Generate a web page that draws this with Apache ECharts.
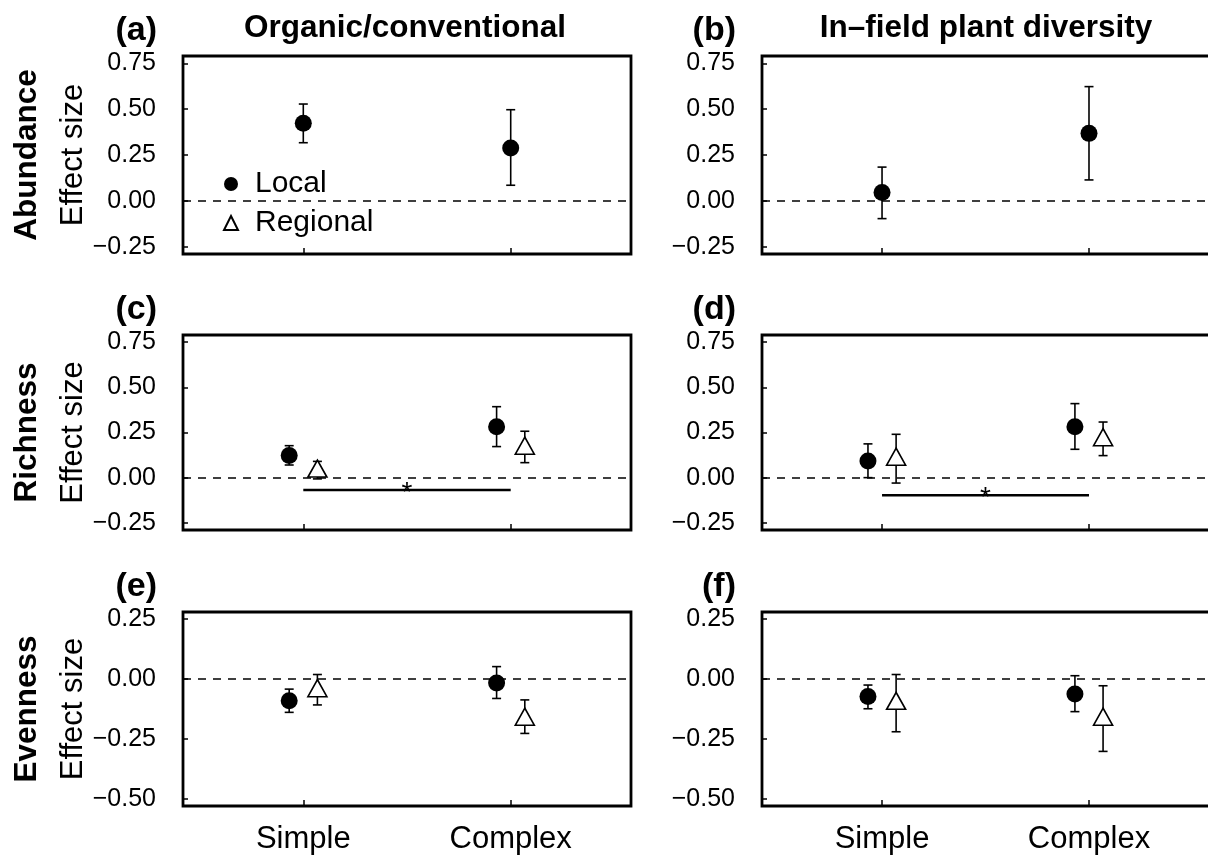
<!DOCTYPE html>
<html>
<head>
<meta charset="utf-8">
<script src="https://cdn.jsdelivr.net/npm/echarts@6/dist/echarts.min.js"></script>
<style>
html, body { margin: 0; background: #fff; }
#main { width: 1208px; height: 859px; }
</style>
</head>
<body>
<div id="main"></div>
<script>
// categories / labels
var cats = ['Simple', 'Complex'];
var panelTags = ['(a)', '(b)', '(c)', '(d)', '(e)', '(f)'];
var colTitles = ['Organic/conventional', 'In\u2013field plant diversity'];
var rowNames = ['Abundance', 'Richness', 'Evenness'];
var yTicksTop = [-0.25, 0, 0.25, 0.5, 0.75];
var yTicksBottom = [-0.5, -0.25, 0, 0.25];

// Local effect sizes (Simple, Complex) for panels a..f
var localMean = [[0.423, 0.288], [0.045, 0.368], [0.122, 0.282], [0.092, 0.282], [-0.091, -0.016], [-0.073, -0.062]];
var localLow  = [[0.317, 0.085], [-0.097, 0.114], [0.070, 0.172], [0.000, 0.157], [-0.139, -0.081], [-0.124, -0.136]];
var localHigh = [[0.528, 0.497], [0.184, 0.623], [0.177, 0.393], [0.187, 0.410], [-0.042, 0.052], [-0.025, 0.014]];

// Regional effect sizes (none for abundance)
var regMean = [[], [], [0.050, 0.177], [0.116, 0.224], [-0.038, -0.157], [-0.091, -0.157]];
var regLow  = [[], [], [-0.007, 0.083], [-0.030, 0.122], [-0.108, -0.227], [-0.220, -0.302]];
var regHigh = [[], [], [0.090, 0.257], [0.240, 0.308], [0.019, -0.087], [0.019, -0.028]];

// significance bar (Simple vs Complex) height
var sigY = [null, null, -0.068, -0.097, null, null];

var myChart = echarts.init(document.getElementById('main'));

var font = '"Liberation Sans", Arial, Helvetica, sans-serif';
var colLeft = [183, 762];
var rowTop = [56, 335, 612];
var rowH = [198, 195, 194];
var yRange = [[-0.29, 0.79], [-0.29, 0.79], [-0.53, 0.28]];
var dodge = 0.068;

function fmtY(v) {
	if (Math.abs(v) < 1e-9) return '0.00';
	return (v < 0 ? '\u2212' : '') + Math.abs(v).toFixed(2);
}

//误差线
function errBar(params, api) {
	var x = api.value(0);
	var p1 = api.coord([x, api.value(1)]);
	var p2 = api.coord([x, api.value(2)]);
	var w = 4.5;
	var st = { stroke: '#000', lineWidth: 1.6 };
	return {
		type: 'group',
		children: [
			{ type: 'line', shape: { x1: p1[0], y1: p1[1], x2: p2[0], y2: p2[1] }, style: st },
			{ type: 'line', shape: { x1: p1[0] - w, y1: p1[1], x2: p1[0] + w, y2: p1[1] }, style: st },
			{ type: 'line', shape: { x1: p2[0] - w, y1: p2[1], x2: p2[0] + w, y2: p2[1] }, style: st }
		]
	};
}

//显著性横线
function sigBar(params, api) {
	var a = api.coord([api.value(0), api.value(2)]);
	var b = api.coord([api.value(1), api.value(2)]);
	return {
		type: 'group',
		children: [
			{ type: 'line', shape: { x1: a[0], y1: a[1], x2: b[0], y2: b[1] }, style: { stroke: '#000', lineWidth: 2.5 } },
			{ type: 'text', x: (a[0] + b[0]) / 2, y: a[1] + 3, style: { text: '*', fill: '#000', font: '28px ' + font, align: 'center', verticalAlign: 'middle' } }
		]
	};
}

var grids = [], xAxes = [], yAxes = [], series = [], graphics = [];

for (var i = 0; i < 6; i++) {
	var row = Math.floor(i / 2), col = i % 2;
	var hasReg = regMean[i].length > 0;
	grids.push({
		left: colLeft[col], top: rowTop[row], width: col === 1 ? 452 : 448, height: rowH[row],
		outerBoundsMode: 'none', containLabel: false,
		show: true, borderColor: '#000', borderWidth: 2.8, backgroundColor: 'transparent'
	});
	xAxes.push({
		gridIndex: i, type: 'value', min: 0.42, max: col === 1 ? 2.604 : 2.58,
		splitLine: { show: false },
		axisLine: { show: false, onZero: false },
		axisTick: { show: true, inside: true, length: 6, customValues: [1, 2], lineStyle: { color: '#000', width: 1.5 } },
		axisLabel: {
			show: row === 2, customValues: [1, 2], margin: 18,
			formatter: function (v) { return cats[Math.round(v) - 1]; },
			fontSize: 31, color: '#000', fontFamily: font
		}
	});
	var ticks = row === 2 ? yTicksBottom : yTicksTop;
	yAxes.push({
		gridIndex: i, type: 'value', min: yRange[row][0], max: yRange[row][1],
		splitLine: { show: false },
		axisLine: { show: false, onZero: false },
		axisTick: { show: true, inside: true, length: 5, customValues: ticks, lineStyle: { color: '#000', width: 1.5 } },
		axisLabel: { customValues: ticks, formatter: fmtY, margin: 27, fontSize: 25, color: '#000', fontFamily: font },
		name: col === 0 ? 'Effect size' : '',
		nameLocation: 'middle', nameGap: 88,
		nameTextStyle: { fontSize: 31, color: '#000', fontFamily: font }
	});

	var lx = hasReg ? [1 - dodge, 2 - dodge] : [1, 2];
	var rx = [1 + dodge, 2 + dodge];
	var lErr = [], lPts = [], rErr = [], rPts = [];
	for (var j = 0; j < 2; j++) {
		lErr.push([lx[j], localLow[i][j], localHigh[i][j]]);
		lPts.push([lx[j], localMean[i][j]]);
		if (hasReg) {
			rErr.push([rx[j], regLow[i][j], regHigh[i][j]]);
			rPts.push([rx[j], regMean[i][j]]);
		}
	}

	series.push({
		type: 'custom', xAxisIndex: i, yAxisIndex: i, renderItem: errBar,
		encode: { x: 0, y: [1, 2] }, data: lErr, z: 2, silent: true,
		markLine: {
			silent: true, symbol: 'none', label: { show: false },
			lineStyle: { color: '#000', type: [8, 7], width: 1.6 },
			data: [{ yAxis: 0 }]
		}
	});
	series.push({
		name: 'Local', type: 'scatter', xAxisIndex: i, yAxisIndex: i,
		symbol: 'circle', symbolSize: 17, data: lPts, z: 3,
		itemStyle: { color: '#000', opacity: 1 }
	});
	series.push({
		type: 'custom', xAxisIndex: i, yAxisIndex: i, renderItem: errBar,
		encode: { x: 0, y: [1, 2] }, data: rErr, z: 2, silent: true
	});
	series.push({
		name: 'Regional', type: 'scatter', xAxisIndex: i, yAxisIndex: i,
		symbol: 'triangle', symbolSize: [19, 17], data: rPts, z: 4,
		itemStyle: { color: '#fff', borderColor: '#000', borderWidth: 1.6, opacity: 1 }
	});
	if (sigY[i] !== null) {
		series.push({
			type: 'custom', xAxisIndex: i, yAxisIndex: i, renderItem: sigBar,
			encode: { x: [0, 1], y: 2 }, data: [[1, 2, sigY[i]]], z: 2, silent: true
		});
	}

	// panel tag (a)..(f)
	graphics.push({
		type: 'text', x: colLeft[col] - 26, y: rowTop[row] - 25,
		style: { text: panelTags[i], font: 'bold 34px ' + font, fill: '#000', align: 'right', verticalAlign: 'middle' }
	});
}

// column titles
graphics.push({ type: 'text', x: 405, y: 28, style: { text: colTitles[0], font: 'bold 31.5px ' + font, fill: '#000', align: 'center', verticalAlign: 'middle' } });
graphics.push({ type: 'text', x: 986, y: 28, style: { text: colTitles[1], font: 'bold 31.5px ' + font, fill: '#000', align: 'center', verticalAlign: 'middle' } });

// row labels
for (var r = 0; r < 3; r++) {
	graphics.push({
		type: 'text', x: 27, y: rowTop[r] + rowH[r] / 2, rotation: Math.PI / 2,
		style: { text: rowNames[r], font: 'bold 31.5px ' + font, fill: '#000', align: 'center', verticalAlign: 'middle' }
	});
}

myChart.setOption({
	animation: false,
	backgroundColor: '#fff',
	legend: {
		data: ['Local', 'Regional'],
		orient: 'vertical', left: 218, top: 164, padding: 5,
		itemWidth: 14, itemHeight: 14, itemGap: 9,
		selectedMode: false,
		textStyle: { fontSize: 30, lineHeight: 30, color: '#000', fontFamily: font, padding: [0, 0, 0, 12] }
	},
	grid: grids,
	xAxis: xAxes,
	yAxis: yAxes,
	graphic: graphics,
	series: series
});
</script>
</body>
</html>
